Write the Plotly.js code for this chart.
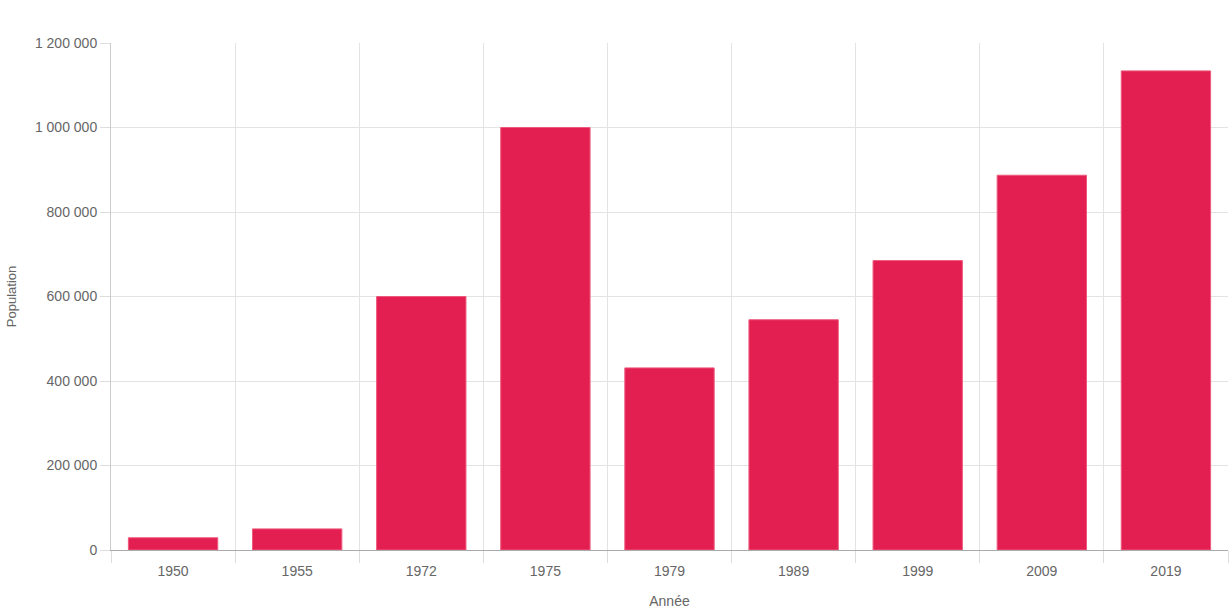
<!DOCTYPE html>
<html>
<head>
<meta charset="utf-8">
<script src="https://cdn.plot.ly/plotly-3.0.1.min.js"></script>
<style>html,body{margin:0;padding:0;background:#fff}#chart{width:1232px;height:616px}</style>
</head>
<body>
<div id="chart"></div>
<script>
const years = ["1950", "1955", "1972", "1975", "1979", "1989", "1999", "2009", "2019"];
const population = [29000, 50000, 600000, 1000000, 431000, 545000, 685000, 887000, 1134000];
const yTicks = [0, 200000, 400000, 600000, 800000, 1000000, 1200000];

const trace = {
  type: "bar",
  x: years,
  y: population,
  width: 0.72,
  marker: {color: "#E31F51", line: {color: "#EE5A7E", width: 1}},
  hoverinfo: "x+y"
};

const layout = {
  width: 1232,
  height: 616,
  margin: {l: 111, r: 4, t: 43, b: 66},
  paper_bgcolor: "#fff",
  plot_bgcolor: "#fff",
  separators: ". ",
  font: {family: "Liberation Sans, Arial, sans-serif", size: 14, color: "#666"},
  showlegend: false,
  bargap: 0.28,
  xaxis: {
    type: "category",
    tickson: "boundaries",
    ticks: "outside",
    ticklen: 12,
    tickcolor: "#ddd",
    ticklabelstandoff: 8,
    showgrid: true,
    gridcolor: "#e3e3e3",
    showline: true,
    linecolor: "#aaa",
    linewidth: 1,
    tickfont: {size: 14, color: "#666"},
    title: {text: "Année", font: {size: 14, color: "#666"}, standoff: 18}
  },
  yaxis: {
    range: [0, 1200000],
    tickvals: yTicks,
    tickformat: ",d",
    ticks: "outside",
    ticklen: 10,
    tickcolor: "#ddd",
    showgrid: true,
    gridcolor: "#e3e3e3",
    zeroline: false,
    showline: true,
    linecolor: "#ccc",
    linewidth: 1,
    tickfont: {size: 14, color: "#666"},
    title: {text: "Population", font: {size: 13, color: "#666"}, standoff: 15}
  }
};

Plotly.newPlot("chart", [trace], layout, {displayModeBar: false, staticPlot: true});
</script>
</body>
</html>
